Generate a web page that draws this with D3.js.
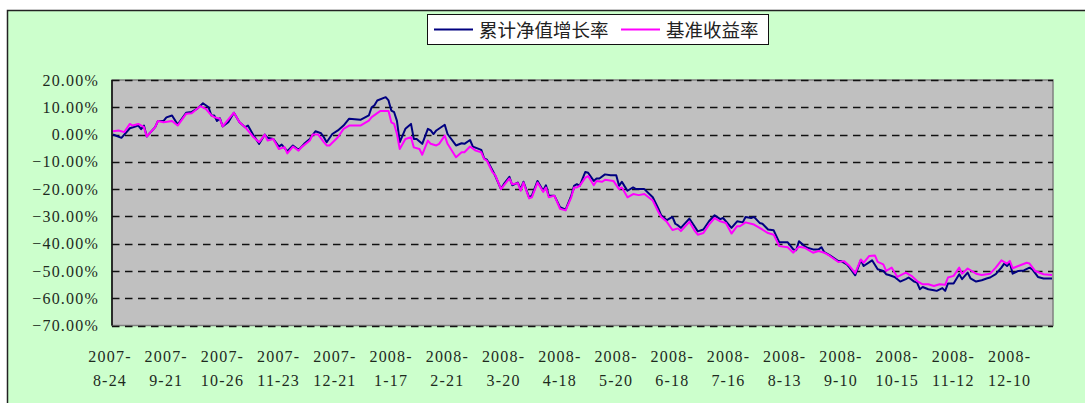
<!DOCTYPE html>
<html>
<head>
<meta charset="utf-8">
<script src="https://cdn.jsdelivr.net/npm/d3@7"></script>
<style>
  body { margin: 0; background: #ffffff; }
</style>
</head>
<body>
<div id="chart"></div>
<script>
// trading-day index (0 = 2007-8-24) and cumulative NAV growth rate, %
const navDay = [
  0, 3, 6, 9, 10, 11, 12, 15, 16, 18,
  19, 21, 23, 26, 28, 30, 32, 34, 35, 36,
  37, 38, 39, 41, 43, 45, 47, 48, 50, 52,
  54, 55, 57, 59, 60, 62, 64, 66, 68, 70,
  72, 74, 75, 76, 78, 80, 82, 84, 88, 91,
  92, 93, 94, 97, 98, 99, 100, 101, 102, 104,
  106, 107, 108, 110, 112, 113, 114, 115, 118, 119,
  122, 124, 125, 127, 128, 131, 132, 133, 135, 136,
  138, 139, 141, 142, 144, 145, 146, 148, 149, 151,
  153, 154, 155, 157, 159, 161, 163, 164, 165, 166,
  168, 169, 171, 172, 173, 175, 177, 179, 180, 181,
  182, 183, 185, 186, 189, 192, 194, 195, 197, 199,
  200, 201, 202, 205, 207, 208, 210, 212, 214, 216,
  217, 220, 222, 224, 225, 227, 228, 230, 231, 233,
  235, 237, 240, 242, 243, 244, 246, 247, 249, 251,
  252, 253, 255, 258, 259, 261, 262, 264, 266, 267,
  270, 272, 274, 275, 276, 278, 280, 282, 283, 285,
  286, 287, 288, 290, 292, 293, 295, 296, 297, 299,
  301, 302, 304, 305, 307, 309, 311, 312, 314, 316,
  317, 318, 319, 320, 322, 324, 326, 327, 329, 331,
  334
];
const navRate = [
  0, -1.2, 2.3, 3.3, 2.0, 3.3, -0.7, 2.7, 5, 5,
  6.3, 7, 3.7, 8, 8.3, 9.5, 11.5, 10, 7, 7,
  5, 6, 3, 4.5, 8, 4.5, 2.7, 3.3, -0.3, -3.4,
  0, -1.2, -1.6, -4.4, -3.7, -6.1, -4, -5.6, -3.4, -1.6,
  1.2, 0.5, -1, -2.8, 0.2, 1.5, 3.3, 5.8, 5.4, 7,
  10, 10.7, 12.5, 13.7, 12.5, 8.8, 8.2, 5, -2.8, 2.1,
  3.9, -1.6, -1.6, -3.4, 2.1, 1.5, 0.2, 1.5, 3.6, 0.2,
  -4, -3.2, -3.4, -2, -4.4, -5.6, -8.7, -9.2, -13.2, -15.2,
  -20, -18.2, -15.5, -18.6, -17.6, -20, -17.3, -23, -22.4, -17,
  -20.6, -18.6, -22.4, -22.4, -26.6, -27.5, -22.4, -18.8, -18.2, -18.8,
  -13.7, -14, -17, -16.1, -16.1, -14.6, -14.9, -14.9, -18.8, -17.3,
  -19, -20.6, -19.4, -20, -20, -23, -27.2, -29.6, -31.4, -30.2,
  -32.7, -33.3, -34.2, -30.8, -33.9, -35.5, -34.8, -31.8, -29.6, -31,
  -30.6, -34.2, -31.8, -32.2, -30.2, -30.6, -30.2, -32.4, -32.7, -34.8,
  -35.1, -39.5, -39.5, -42.1, -42.4, -39.1, -40.9, -41.5, -42.1, -42.1,
  -41.3, -43.1, -44.3, -46.4, -46.4, -47.6, -48.8, -51.6, -46, -48.2,
  -46.1, -49.4, -50, -51.2, -51.5, -52.2, -53.9, -53, -52.4, -53.9,
  -54.3, -56.7, -55.9, -56.7, -57.1, -57.3, -56.3, -57.3, -54.6, -54.6,
  -51.2, -53, -50.6, -52.7, -53.9, -53.4, -52.7, -52.4, -51.2, -48.8,
  -47.3, -48.2, -47, -51, -50, -49.8, -48.8, -49.4, -52.2, -52.8,
  -52.8
];

// benchmark return, %
const benchDay = [
  0, 2, 4, 6, 7, 9, 11, 12, 15, 16,
  18, 21, 23, 26, 28, 31, 33, 35, 36, 38,
  39, 43, 45, 47, 50, 52, 54, 55, 57, 59,
  61, 62, 64, 66, 67, 70, 71, 73, 75, 76,
  77, 80, 82, 84, 88, 91, 92, 95, 98, 99,
  100, 101, 102, 104, 106, 107, 109, 110, 112, 113,
  115, 116, 118, 119, 122, 124, 125, 127, 129, 131,
  132, 133, 135, 136, 138, 141, 142, 144, 145, 146,
  148, 149, 151, 153, 154, 155, 157, 159, 161, 163,
  164, 165, 166, 168, 169, 171, 172, 174, 175, 178,
  180, 181, 183, 185, 187, 189, 192, 194, 195, 197,
  199, 201, 202, 205, 207, 208, 210, 212, 214, 216,
  218, 220, 222, 223, 225, 228, 230, 233, 235, 237,
  240, 242, 244, 246, 247, 249, 251, 253, 255, 258,
  260, 262, 264, 266, 267, 269, 271, 272, 274, 275,
  277, 279, 282, 284, 286, 288, 290, 292, 294, 296,
  297, 299, 301, 302, 304, 307, 309, 312, 314, 316,
  318, 319, 320, 322, 325, 326, 328, 331, 334
];
const benchRate = [
  1.2, 1.5, 0.9, 3.9, 3.3, 3.9, 2.7, -0.7, 2.7, 5,
  4.5, 5, 3.3, 7.6, 7.8, 10.4, 9.4, 7, 6.4, 5.8,
  3, 8, 4.5, 2.7, -1, -2.8, 0, -2.2, -1.6, -5.3,
  -4.6, -6.9, -4.4, -5.9, -4.7, -2.2, 0, 0, -2.8, -4,
  -4, -1, 2.1, 3.3, 3.3, 5.1, 6.4, 8.6, 8.6, 4.5,
  3.9, 0.2, -5.3, -1.6, -1, -4.7, -5.3, -7.4, -2.2, -3.4,
  -4, -3.4, -0.4, -3.4, -8.3, -6.5, -6.5, -4.4, -5.9, -6.5,
  -8.9, -9.6, -13.8, -15, -20, -16.1, -18.2, -17.8, -20.6, -17.6,
  -23.4, -23, -17.6, -21, -19.4, -23, -22.4, -27.2, -27.8, -23,
  -19.4, -19.4, -18.8, -15.8, -15.2, -18.6, -17, -17.3, -16.6, -17,
  -20, -19.4, -23, -21.8, -22.2, -21.8, -24.2, -28.4, -30.2, -32,
  -35, -34.4, -35.4, -32, -35.4, -36.7, -36.1, -33, -30.6, -31.8,
  -32.4, -36.3, -33.6, -33.6, -32.2, -33, -34.2, -36.1, -36.7, -40.9,
  -41.3, -43.3, -41.1, -41.5, -42.1, -43.3, -42.7, -43.3, -44.5, -46.7,
  -46.4, -48.2, -50.8, -45.8, -47, -44.5, -44.3, -46.7, -47.6, -50,
  -48.8, -52.2, -50.6, -51.8, -53.7, -54.9, -54.9, -55.5, -54.9, -55.1,
  -52.4, -51.8, -48.8, -51, -49.1, -51, -51.5, -51, -48.8, -46.1,
  -47.3, -46.3, -49, -48.2, -47, -47.3, -50, -51.2, -51.5
];

// category labels shown every 20 trading days
const xTickDays = [0, 20, 40, 60, 80, 100, 120, 140, 160, 180, 200, 220, 240, 260, 280, 300, 320];
const xTickLabels = [
  "2007-8-24", "2007-9-21", "2007-10-26", "2007-11-23", "2007-12-21",
  "2008-1-17", "2008-2-21", "2008-3-20", "2008-4-18", "2008-5-20",
  "2008-6-18", "2008-7-16", "2008-8-13", "2008-9-10", "2008-10-15",
  "2008-11-12", "2008-12-10"
];
const yTicks = [20, 10, 0, -10, -20, -30, -40, -50, -60, -70];

const seriesNames = ["累计净值增长率", "基准收益率"];
const seriesColors = ["#000080", "#ff00ff"];

const width = 1085, height = 403;
const plot = { left: 112, right: 1053, top: 80, bottom: 325.5 };

const svg = d3.select("#chart")
  .append("svg")
  .attr("width", width)
  .attr("height", height);

// chart area background with frame
svg.append("rect")
  .attr("x", 7.5)
  .attr("y", 10.5)
  .attr("width", 1100)
  .attr("height", 420)
  .attr("fill", "#ccffcc")
  .attr("stroke", "#222")
  .attr("stroke-width", 1.5);

var x = d3.scaleLinear().domain([0, 334]).range([plot.left + 1, plot.right - 1]);
var y = d3.scaleLinear().domain([-70, 20]).range([plot.bottom, plot.top]);

// plot area
svg.append("rect")
  .attr("x", plot.left)
  .attr("y", plot.top)
  .attr("width", plot.right - plot.left)
  .attr("height", plot.bottom - plot.top)
  .attr("fill", "#c0c0c0")
  .attr("stroke", "#808080")
  .attr("stroke-width", 1.5);

// dashed gridlines
svg.append("g")
  .selectAll("line")
  .data(yTicks)
  .enter()
  .append("line")
  .attr("x1", plot.left)
  .attr("x2", plot.right)
  .attr("y1", (d) => Math.round(y(d)) + 0.5)
  .attr("y2", (d) => Math.round(y(d)) + 0.5)
  .attr("stroke", "#111")
  .attr("stroke-width", 1.3)
  .attr("stroke-dasharray", "7.5,5.5");

// y axis labels
var fmt = d3.format(".2f");
var yAxis = svg.append("g")
  .attr("transform", "translate(" + plot.left + ",0)")
  .call(
    d3.axisLeft(y)
      .tickValues(yTicks)
      .tickSize(0)
      .tickPadding(13)
      .tickFormat((d) => fmt(d) + "%")
  );
yAxis.select(".domain").remove();
yAxis.selectAll("text")
  .attr("fill", "#1e2a1e")
  .style("font-family", "'Liberation Serif', 'DejaVu Serif', serif")
  .style("font-size", "16px")
  .style("letter-spacing", "1.2px");

// left axis line
svg.append("line")
  .attr("x1", plot.left)
  .attr("x2", plot.left)
  .attr("y1", plot.top)
  .attr("y2", plot.bottom)
  .attr("stroke", "#111")
  .attr("stroke-width", 1.6);

// x axis labels, two lines each
var xLabels = svg.append("g")
  .selectAll("text")
  .data(xTickDays)
  .enter()
  .append("text")
  .attr("text-anchor", "middle")
  .attr("fill", "#1e2a1e")
  .style("font-family", "'Liberation Serif', 'DejaVu Serif', serif")
  .style("font-size", "16px")
  .style("letter-spacing", "1.2px");

xLabels.each(function (d, i) {
  var label = xTickLabels[i];
  var cut = label.indexOf("-") + 1;
  var t = d3.select(this);
  t.append("tspan")
    .attr("x", x(d) - 3)
    .attr("y", 362)
    .text(label.substring(0, cut));
  t.append("tspan")
    .attr("x", x(d) - 3)
    .attr("y", 386)
    .text(label.substring(cut));
});

// lines
var line = d3.line()
  .x((d) => x(d[0]))
  .y((d) => y(d[1]));

var navPoints = navDay.map((d, i) => [d, navRate[i]]);
var benchPoints = benchDay.map((d, i) => [d, benchRate[i]]);

svg.append("path")
  .datum(navPoints)
  .attr("d", line)
  .attr("fill", "none")
  .attr("stroke", seriesColors[0])
  .attr("stroke-width", 2)
  .attr("stroke-linejoin", "round");

svg.append("path")
  .datum(benchPoints)
  .attr("d", line)
  .attr("fill", "none")
  .attr("stroke", seriesColors[1])
  .attr("stroke-width", 2)
  .attr("stroke-linejoin", "round");

// legend
var legend = svg.append("g");
legend.append("rect")
  .attr("x", 427.5)
  .attr("y", 14.5)
  .attr("width", 341)
  .attr("height", 30)
  .attr("fill", "#ffffff")
  .attr("stroke", "#111")
  .attr("stroke-width", 1);

var legendX = [434, 621];
seriesNames.forEach(function (name, i) {
  legend.append("line")
    .attr("x1", legendX[i])
    .attr("x2", legendX[i] + 39)
    .attr("y1", 29.5)
    .attr("y2", 29.5)
    .attr("stroke", seriesColors[i])
    .attr("stroke-width", 2);
  legend.append("text")
    .attr("x", legendX[i] + 45)
    .attr("y", 36.5)
    .attr("fill", "#222")
    .style("font-family", "'Noto Sans CJK SC', sans-serif")
    .style("font-size", "18.5px")
    .text(name);
});
</script>
</body>
</html>
